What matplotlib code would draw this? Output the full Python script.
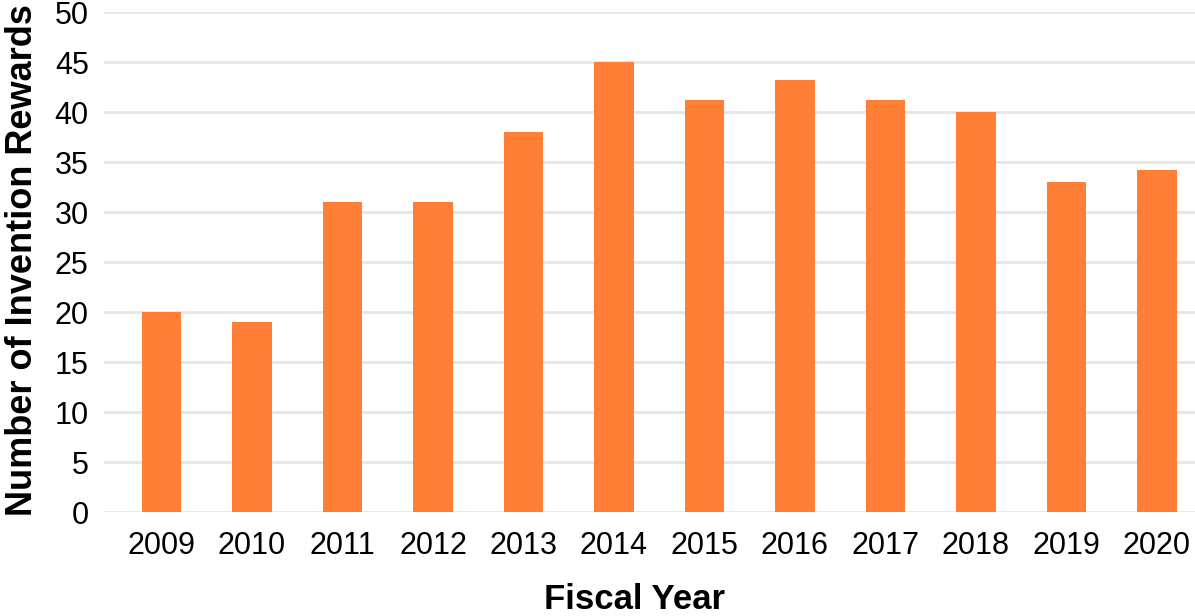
import matplotlib
matplotlib.use("Agg")
import matplotlib.pyplot as plt

plt.rcParams['font.family'] = ['Liberation Sans', 'DejaVu Sans']

years = ["2009", "2010", "2011", "2012", "2013", "2014",
         "2015", "2016", "2017", "2018", "2019", "2020"]
rewards = [20, 19, 31, 31, 38, 45, 41.2, 43.2, 41.2, 40, 33, 34.2]

fig = plt.figure(figsize=(11.95, 6.16), dpi=100)
ax = fig.add_axes([104 / 1195, 1 - 512 / 616, 1091 / 1195, 500 / 616])

x = range(len(years))
ax.bar(x, rewards, width=0.44, color="#FF7F37", zorder=3)

ax.set_xlim(-0.635, 11.42)
ax.set_ylim(0, 50)
ax.set_yticks(range(0, 51, 5))
ax.set_xticks(list(x))
ax.set_xticklabels(years)
ax.grid(axis="y", color="#E6E6E6", linewidth=2, zorder=0)
for s in ax.spines.values():
    s.set_visible(False)
ax.tick_params(length=0, labelsize=22, pad=14)
ax.tick_params(axis="y", pad=11)

ax.set_xlabel("Fiscal Year", fontsize=25, fontweight="bold")
ax.xaxis.set_label_coords(0.486, -0.142)
ax.set_ylabel("Number of Invention Rewards", fontsize=26, fontweight="bold")
ax.yaxis.set_label_coords(-0.059, 0.503)

fig.savefig("out.png", dpi=100)
